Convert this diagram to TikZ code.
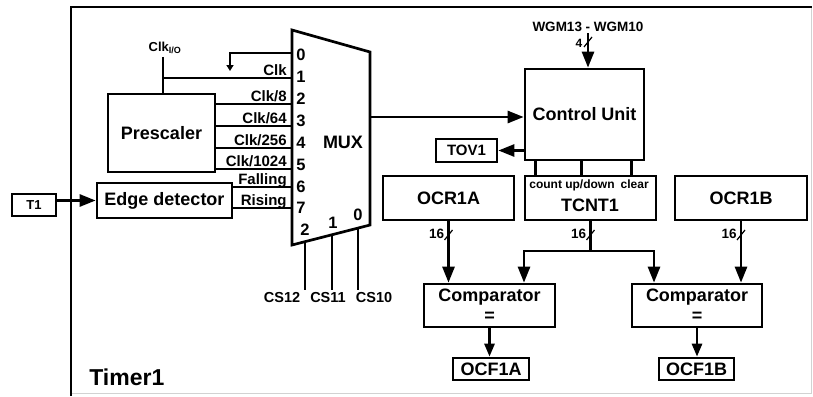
\documentclass[tikz,border=0pt]{standalone}
\usepackage{fontspec}
\setmainfont{Liberation Sans}
\usetikzlibrary{arrows.meta,calc}
\newcommand\myfs[1]{\fontsize{#1}{#1}\selectfont}
\begin{document}
\begin{tikzpicture}[x=1pt,y=-1pt,line width=2.7pt,line join=miter,
  box/.style={draw,line width=2.7pt,inner sep=0pt,align=center,font=\bfseries\myfs{18}},
  lbl/.style={inner sep=0pt,font=\bfseries\myfs{15}},
  dig/.style={inner sep=0pt,font=\bfseries\myfs{16.5}},
  tick/.style={line width=1.2pt},
  arr/.style={-{Triangle[length=16pt,width=12pt]}},
  sarr/.style={-{Triangle[length=13pt,width=10pt]}},
  tarr/.style={line width=1.8pt,-{Triangle[length=6pt,width=7pt]}}]
\useasboundingbox (0,0) rectangle (813,396);
% frame
\draw[line width=2.8pt] (71,396) -- (71,7) -- (812,7);
\draw[gray!35,line width=1pt] (811,8) -- (811,393) -- (72,393);
% MUX
\coordinate (mTL) at (292,30);
\coordinate (mTR) at (370,52);
\coordinate (mBR) at (370,225);
\coordinate (mBL) at (292,245);
\draw (mTL) -- (mTR) -- (mBR) -- (mBL) -- cycle;
\node[inner sep=0pt,font=\bfseries\myfs{18}] (muxl) at (343,142) {MUX};
\foreach \n/\y in {0/53,1/78,2/104,3/126,4/148,5/169,6/187,7/208}
  \coordinate (in\n) at (292,\y);
\foreach \n/\y in {0/55,1/77,2/99,3/121,4/143,5/165,6/187,7/208}
  \node[dig] (d\n) at (301,\y) {\n};
% prescaler
\node[box,minimum width=107pt,minimum height=78pt] (pre) at (161.5,133) {Prescaler};
\node[inner sep=0pt,font=\bfseries\myfs{13}] (clkio) at (165,48) {Clk\textsubscript{\myfs{9}I/O}};
\coordinate (ck) at (163,57);
\draw (ck) -- (ck |- pre.north);
\draw (in1) -- (in1 -| ck);
\coordinate (g0) at (230,71);
\draw[tarr] (in0) -| (g0);
\foreach \n in {2,3,4,5} \draw (in\n) -- (in\n -| pre.east);
\node[lbl,anchor=base east] (lclk) at (288,75) {Clk};
\node[lbl,anchor=base east] (l8) at (288,101) {Clk/8};
\node[lbl,anchor=base east] (l64) at (288,123) {Clk/64};
\node[lbl,anchor=base east] (l256) at (288,145) {Clk/256};
\node[lbl,anchor=base east] (l1024) at (288,166) {Clk/1024};
\node[lbl,anchor=base east] (lfall) at (288,184) {Falling};
\node[lbl,anchor=base east] (lrise) at (288,205) {Rising};
% edge detector and T1
\node[box,minimum width=135pt,minimum height=35pt] (ed) at (164.5,200.5) {Edge detector};
\node[box,line width=2.4pt,minimum width=44pt,minimum height=22pt,font=\bfseries\myfs{13}] (t1) at (34,205) {T1};
\draw[arr] (t1.east |- ed.west) -- (ed.west);
\draw (in6) -- (in6 -| ed.east);
\draw (in7) -- (in7 -| ed.east);
% selects
\coordinate (sb) at (0,290);
\coordinate (s2) at ($(mBL)!{13/78}!(mBR)$);
\coordinate (s1) at ($(mBL)!{40/78}!(mBR)$);
\coordinate (s0) at ($(mBL)!{66/78}!(mBR)$);
\foreach \s in {s2,s1,s0} \draw (\s) -- (\s |- sb);
\node[dig] (sd2) at (305,230) {2};
\node[dig] (sd1) at (333,222.5) {1};
\node[dig] (sd0) at (358,215) {0};
\node[lbl,font=\bfseries\myfs{14.5}] (cs12) at (282,298) {CS12};
\node[lbl,font=\bfseries\myfs{14.5}] (cs11) at (328,298) {CS11};
\node[lbl,font=\bfseries\myfs{14.5}] (cs10) at (374,298) {CS10};
\node[inner sep=0pt,anchor=base west,font=\bfseries\myfs{23}] (timer) at (88,385) {Timer1};
% control unit
\node[box,minimum width=119pt,minimum height=91pt] (cu) at (584.5,114.5) {Control Unit};
\coordinate (mout) at (370,117);
\draw[arr] (mout) -- (mout -| cu.west);
\node[inner sep=0pt,font=\bfseries\myfs{13.5}] (wgm) at (588,27) {WGM13 - WGM10};
\draw[arr] (wgm.south) -- (wgm.south |- cu.north);
\coordinate (t4) at (588,42);
\draw[tick] ($(t4)+(-4,5)$) -- ($(t4)+(4,-5)$);
\node[inner sep=0pt,font=\bfseries\myfs{12}] (n4) at (579,43) {4};
\node[box,minimum width=61pt,minimum height=23pt,font=\bfseries\myfs{15}] (tov) at (466.5,150.5) {TOV1};
\draw[arr] (tov.east -| cu.west) -- (tov.east);
% TCNT1
\node[box,minimum width=131pt,minimum height=44pt] (tcnt) at (590.5,198) {};
\node[inner sep=0pt,font=\bfseries\myfs{12}] (cud) at (589,185) {count up/down\enspace clear};
\node[inner sep=0pt,font=\bfseries\myfs{18}] (tcntl) at (590,205) {TCNT1};
\foreach \dx in {12,58,108}
  \draw ([xshift=\dx pt]cu.south west) -- ([xshift=\dx pt]tcnt.north west);
% OCR
\node[box,minimum width=131pt,minimum height=44pt] (ocra) at (448.5,198) {OCR1A};
\node[box,minimum width=132pt,minimum height=44pt] (ocrb) at (741,198) {OCR1B};
% comparators
\node[box,minimum width=131pt,minimum height=43pt,font=\bfseries\fontsize{18}{20}\selectfont] (cmpa) at (489.5,305.5) {Comparator\\=};
\node[box,minimum width=130pt,minimum height=43pt,font=\bfseries\fontsize{18}{20}\selectfont] (cmpb) at (697,305.5) {Comparator\\=};
\node[box,minimum width=76pt,minimum height=22pt] (ocfa) at (491,369) {OCF1A};
\node[box,minimum width=75pt,minimum height=22pt] (ocfb) at (696.5,369) {OCF1B};
\draw[arr] (ocra.south) -- (ocra.south |- cmpa.north);
\draw[arr] (ocrb.south) -- (ocrb.south |- cmpb.north);
\coordinate (sp) at (590.5,251);
\coordinate (spa) at (524,251);
\coordinate (spb) at (654,251);
\draw (tcnt.south) -- (sp);
\draw[arr] (sp) -- (spa) -- (spa |- cmpa.north);
\draw[arr] (sp) -- (spb) -- (spb |- cmpb.north);
\draw[sarr] (cmpa.south) -- (cmpa.south |- ocfa.north);
\draw[sarr] (cmpb.south) -- (cmpb.south |- ocfb.north);
% bus ticks
\foreach \x/\nm in {448.5/a,590.5/t,741/b} {
  \coordinate (bt\nm) at (\x,235);
  \draw[tick] ($(bt\nm)+(-4,5)$) -- ($(bt\nm)+(4,-5)$);
  \node[inner sep=0pt,font=\bfseries\myfs{13.5},anchor=east] (b16\nm) at ($(bt\nm)+(-3,-1)$) {16};
}
\end{tikzpicture}
\end{document}
